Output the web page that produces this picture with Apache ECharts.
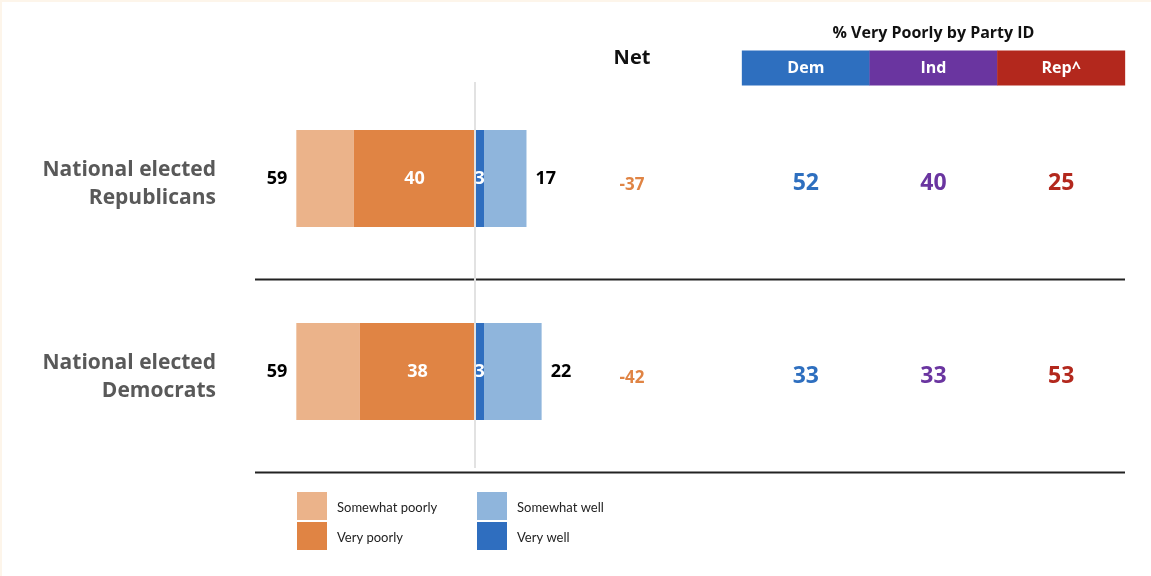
<!DOCTYPE html>
<html>
<head>
<meta charset="utf-8">
<script src="https://cdn.jsdelivr.net/npm/echarts@6/dist/echarts.min.js"></script>
<style>
html,body{margin:0;padding:0;background:#fff;}
#chart{width:1151px;height:576px;box-shadow:inset 2px 2px 0 #fdf5ea;}
</style>
</head>
<body>
<div id="chart"></div>
<script>
// ---- data ----
const categories = ['National elected\nRepublicans', 'National elected\nDemocrats'];
const somewhatPoorly = [19, 21];
const veryPoorly = [40, 38];
const veryWell = [3, 3];
const somewhatWell = [14, 19];
const poorlyTotal = [59, 59];
const wellTotal = [17, 22];
const netValues = [-37, -42];
const parties = ['Dem', 'Ind', 'Rep^'];
const demVeryPoorly = [52, 33];
const indVeryPoorly = [40, 33];
const repVeryPoorly = [25, 53];

// ---- styles ----
const C_SP = '#ebb38a', C_VP = '#e08444', C_SW = '#8fb5dc', C_VW = '#2f6ebf';
const partyColors = { Dem: '#2e6fbf', Ind: '#6a35a0', Rep: '#b3281d' };
const FONT = '"Open Sans", Lato, sans-serif';
const LFONT = 'Lato, "Open Sans", sans-serif';

const chart = echarts.init(document.getElementById('chart'));

const barLabel = {
  show: true, color: '#fff', fontWeight: 'bold', fontSize: 18, fontFamily: FONT
};

function headRich(color) {
  return { width: 128, height: 35, lineHeight: 35, align: 'center', backgroundColor: color,
    color: '#fff', fontWeight: 'bold', fontSize: 16, fontFamily: FONT };
}

const legendText = { fontSize: 13, color: '#222', fontFamily: LFONT,
  rich: { t: { fontSize: 13, color: '#222', fontFamily: LFONT, padding: [4, 0, 0, 5] } } };

const option = {
  animation: false,
  backgroundColor: 'transparent',
  textStyle: { fontFamily: FONT },
  grid: [
    { left: 263, width: 424, top: 82, height: 386 },   // bars
    { left: 590, width: 84, top: 82, height: 386 },    // net
    { left: 742, width: 383, top: 82, height: 386 }    // party
  ],
  xAxis: [
    { gridIndex: 0, type: 'value', min: -70, max: 70, show: false },
    { gridIndex: 1, type: 'category', data: ['Net'], position: 'top',
      axisLine: { show: false }, axisTick: { show: false },
      axisLabel: { margin: 24, verticalAlign: 'middle', fontSize: 20, fontWeight: 'bold', color: '#111', fontFamily: FONT } },
    { gridIndex: 2, type: 'category', data: parties, position: 'top',
      axisLine: { show: false }, axisTick: { show: false },
      name: '% Very Poorly by Party ID', nameLocation: 'middle', nameGap: 41,
      nameTextStyle: { fontSize: 16, fontWeight: 'bold', color: '#111', fontFamily: FONT },
      axisLabel: {
        margin: 14, verticalAlign: 'middle', interval: 0,
        formatter: v => '{' + v.replace('^', '') + '|' + v + '}',
        rich: { Dem: headRich(partyColors.Dem), Ind: headRich(partyColors.Ind), Rep: headRich(partyColors.Rep) }
      } }
  ],
  yAxis: [
    { gridIndex: 0, type: 'category', data: categories, inverse: true,
      axisLine: { show: false }, axisTick: { show: false },
      axisLabel: { margin: 47, align: 'right', verticalAlign: 'middle',
        formatter: v => '{s|}\n' + v.split('\n').map(s => '{a|' + s + '}').join('\n'),
        rich: {
          s: { height: 12, lineHeight: 12, fontSize: 10 },
          a: { fontSize: 21, lineHeight: 28, fontWeight: 'bold', color: '#595959', fontFamily: FONT, align: 'right' }
        } } },
    { gridIndex: 1, type: 'category', data: categories, inverse: true, show: false },
    { gridIndex: 2, type: 'category', data: categories, inverse: true, show: false }
  ],
  legend: [
    { left: 297, top: 492, padding: 0, orient: 'vertical', itemWidth: 30, itemHeight: 28, itemGap: 2,
      icon: 'rect', data: ['Somewhat poorly', 'Very poorly'], selectedMode: false,
      formatter: '{t|{name}}', textStyle: legendText },
    { left: 477, top: 492, padding: 0, orient: 'vertical', itemWidth: 30, itemHeight: 28, itemGap: 2,
      icon: 'rect', data: ['Somewhat well', 'Very well'], selectedMode: false,
      formatter: '{t|{name}}', textStyle: legendText }
  ],
  graphic: [
    { type: 'line', shape: { x1: 255, y1: 279.5, x2: 1125, y2: 279.5 }, style: { stroke: '#222', lineWidth: 2 }, silent: true },
    { type: 'line', shape: { x1: 255, y1: 472.5, x2: 1125, y2: 472.5 }, style: { stroke: '#222', lineWidth: 2 }, silent: true }
  ],
  series: [
    { name: 'Very poorly', type: 'bar', stack: 'all', xAxisIndex: 0, yAxisIndex: 0,
      barWidth: 97, itemStyle: { color: C_VP },
      data: veryPoorly.map(v => -v),
      label: Object.assign({}, barLabel, { position: 'inside', formatter: p => veryPoorly[p.dataIndex] }),
      markLine: { silent: true, symbol: 'none', label: { show: false },
        lineStyle: { color: '#e2e2e2', width: 2, type: 'solid' },
        data: [{ xAxis: 0 }] },
      z: 3 },
    { name: 'Somewhat poorly', type: 'bar', stack: 'all', xAxisIndex: 0, yAxisIndex: 0,
      barWidth: 97, itemStyle: { color: C_SP },
      data: somewhatPoorly.map(v => -v),
      label: Object.assign({}, barLabel, { position: 'left', distance: 9, color: '#000', formatter: p => poorlyTotal[p.dataIndex] }) },
    { name: 'Very well', type: 'bar', stack: 'all', xAxisIndex: 0, yAxisIndex: 0,
      barWidth: 97, itemStyle: { color: C_VW },
      data: veryWell,
      label: Object.assign({}, barLabel, { position: 'inside', formatter: p => veryWell[p.dataIndex] }),
      z: 4 },
    { name: 'Somewhat well', type: 'bar', stack: 'all', xAxisIndex: 0, yAxisIndex: 0,
      barWidth: 97, itemStyle: { color: C_SW },
      data: somewhatWell,
      label: Object.assign({}, barLabel, { position: 'right', distance: 9, color: '#000', formatter: p => wellTotal[p.dataIndex] }) },
    { name: 'Net', type: 'scatter', xAxisIndex: 1, yAxisIndex: 1, symbolSize: 0, itemStyle: { opacity: 1 },
      data: netValues.map((v, i) => ['Net', categories[i], v]),
      label: { show: true, position: 'inside', offset: [0, 7], formatter: p => p.value[2],
        fontSize: 17, fontWeight: 'bold', color: C_VP, fontFamily: FONT } },
    { name: 'Dem', type: 'scatter', xAxisIndex: 2, yAxisIndex: 2, symbolSize: 0, itemStyle: { opacity: 1 },
      data: demVeryPoorly.map((v, i) => [parties[0], categories[i], v]),
      label: { show: true, position: 'inside', offset: [0, 5], formatter: p => p.value[2],
        fontSize: 23, fontWeight: 'bold', color: partyColors.Dem, fontFamily: FONT } },
    { name: 'Ind', type: 'scatter', xAxisIndex: 2, yAxisIndex: 2, symbolSize: 0, itemStyle: { opacity: 1 },
      data: indVeryPoorly.map((v, i) => [parties[1], categories[i], v]),
      label: { show: true, position: 'inside', offset: [0, 5], formatter: p => p.value[2],
        fontSize: 23, fontWeight: 'bold', color: partyColors.Ind, fontFamily: FONT } },
    { name: 'Rep', type: 'scatter', xAxisIndex: 2, yAxisIndex: 2, symbolSize: 0, itemStyle: { opacity: 1 },
      data: repVeryPoorly.map((v, i) => [parties[2], categories[i], v]),
      label: { show: true, position: 'inside', offset: [0, 5], formatter: p => p.value[2],
        fontSize: 23, fontWeight: 'bold', color: partyColors.Rep, fontFamily: FONT } }
  ]
};
chart.setOption(option);
</script>
</body>
</html>
